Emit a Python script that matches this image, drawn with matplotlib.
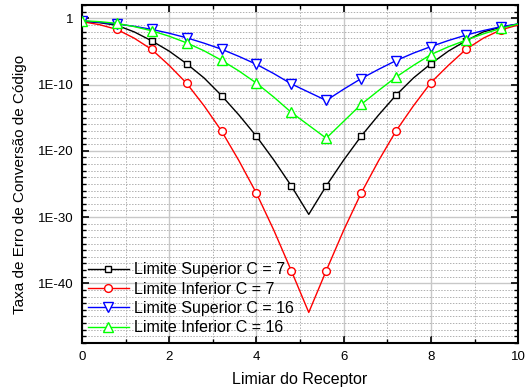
import matplotlib
matplotlib.use("Agg")
import matplotlib.pyplot as plt
import matplotlib.ticker as mticker
import numpy as np

plt.rcParams['font.family'] = ['Liberation Sans', 'DejaVu Sans']

# receptor threshold, 0.4 steps (markers every 0.8)
limiar = [0.0, 0.4, 0.8, 1.2, 1.6, 2.0, 2.4, 2.8, 3.2, 3.6, 4.0, 4.4, 4.8,
          5.2, 5.6, 6.0, 6.4, 6.8, 7.2, 7.6, 8.0, 8.4, 8.8, 9.2, 9.6, 10.0]

# log10 of the error rate
sup_c7 = [-0.45, -0.65, -1.05, -2.05, -3.4, -4.95, -6.85, -9.0, -11.65, -14.6, -17.8, -21.4, -25.3,
          -29.6, -25.3, -21.4, -17.8, -14.6, -11.6, -9.0, -6.85, -4.95, -3.4, -2.05, -1.35, -0.85]
inf_c7 = [-0.5, -0.95, -1.67, -3.0, -4.7, -7.1, -9.8, -13.2, -17.0, -21.5, -26.4, -32.0, -38.1,
          -44.4, -38.1, -32.0, -26.4, -21.5, -17.0, -13.2, -9.7, -7.1, -4.7, -3.0, -1.75, -1.0]
sup_c16 = [-0.4, -0.6, -0.87, -1.2, -1.67, -2.25, -2.94, -3.75, -4.66, -5.75, -6.94, -8.35, -9.9,
           -11.15, -12.4, -10.7, -9.1, -7.7, -6.38, -5.25, -4.26, -3.35, -2.54, -1.85, -1.27, -0.85]
inf_c16 = [-0.35, -0.5, -0.76, -1.25, -1.88, -2.7, -3.7, -4.9, -6.33, -7.95, -9.78, -11.9, -14.2,
           -16.15, -18.1, -15.55, -13.0, -10.9, -8.87, -7.1, -5.47, -4.3, -3.3, -2.35, -1.52, -0.85]

labels = ['Limite Superior C = 7', 'Limite Inferior C = 7',
          'Limite Superior C = 16', 'Limite Inferior C = 16']

fig = plt.figure(figsize=(5.25, 3.91), dpi=100)
ax = fig.add_axes([0.156, 0.123, 0.831, 0.864])

series = [(sup_c7, 'black', 's', 5.0), (inf_c7, 'red', 'o', 5.6),
          (sup_c16, 'blue', 'v', 6.5), (inf_c16, '#00ff00', '^', 6.5)]
for (vals, col, mk, ms), lab in zip(series, labels):
    ax.plot(limiar, 10.0 ** np.array(vals), color=col, lw=1.0, marker=mk, ms=ms,
            mfc='white', mec=col, mew=1.0, markevery=(0, 2), label=lab, zorder=3)

ax.set_yscale('log')
ax.set_xlim(0, 10)
ax.set_ylim(1e-49, 1e2)

ax.xaxis.set_major_locator(mticker.MultipleLocator(2))
ax.xaxis.set_minor_locator(mticker.MultipleLocator(1))
ax.yaxis.set_major_locator(mticker.FixedLocator([1e-40, 1e-30, 1e-20, 1e-10, 1.0]))
ax.yaxis.set_major_formatter(mticker.FixedFormatter(['1E-40', '1E-30', '1E-20', '1E-10', '1']))
ax.yaxis.set_minor_locator(mticker.FixedLocator(10.0 ** np.arange(-49, 3)))
ax.yaxis.set_minor_formatter(mticker.NullFormatter())

ax.grid(which='major', color='#c8c8c8', lw=1.0, ls='-')
ax.grid(which='minor', color='#b0b0b0', lw=0.7, ls=(0, (1.5, 1.5)))
ax.set_axisbelow(True)

ax.tick_params(which='both', direction='in', top=True, right=True, labelsize=9.5, pad=6)
ax.tick_params(which='major', length=5, width=1.2)
ax.tick_params(which='minor', length=3, width=1.0)
for s in ax.spines.values():
    s.set_linewidth(1.5)

ax.set_xlabel('Limiar do Receptor', fontsize=11.5, labelpad=6)
ax.set_ylabel('Taxa de Erro de Conversão de Código', fontsize=11)
ax.yaxis.set_label_coords(-0.125, 0.47)

ax.legend(loc='lower left', bbox_to_anchor=(0.013, 0.023), frameon=False, fontsize=11.5,
          handlelength=2.6, handletextpad=0.3, labelspacing=0.27, borderaxespad=0, borderpad=0)

fig.savefig('out.png', dpi=100)
